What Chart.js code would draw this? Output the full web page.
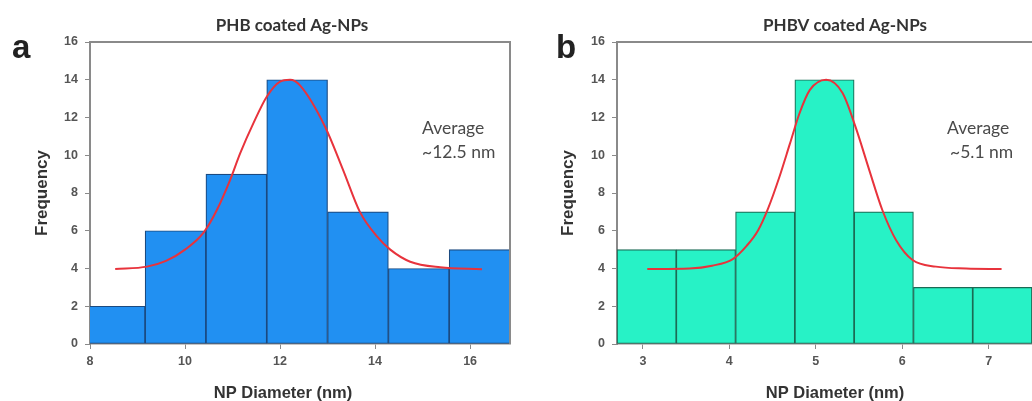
<!DOCTYPE html>
<html>
<head>
<meta charset="utf-8">
<script src="https://cdn.jsdelivr.net/npm/chart.js@4.4.1/dist/chart.umd.min.js"></script>
<style>
  html, body { margin: 0; padding: 0; background: #fff; }
  body { width: 1032px; height: 401px; position: relative; overflow: hidden; }
  .panel { position: absolute; top: 0; height: 401px; }
  #panelA { left: 0; width: 520px; }
  #panelB { left: 520px; width: 512px; }
</style>
</head>
<body>
<div class="panel" id="panelA"><canvas id="chartA"></canvas></div>
<div class="panel" id="panelB"><canvas id="chartB"></canvas></div>
<script>
// PHB coated Ag-NPs - bin edges (nm) and counts per bin
const binEdgesA = [7.88, 9.16, 10.44, 11.72, 13.00, 14.28, 15.56, 16.84];
const countsA = [2, 6, 9, 14, 7, 4, 5];
// fitted normal curve over the histogram
const fitXA = [8.53, 9.2, 9.6, 10.0, 10.39, 10.67, 10.95, 11.16, 11.44, 11.72, 12.0, 12.21, 12.42, 12.95, 13.33, 13.68, 14.04, 14.32, 14.74, 15.37, 16.25];
const fitYA = [3.97, 4.1, 4.4, 5.0, 5.9, 7.1, 8.7, 10.1, 11.7, 13.1, 13.9, 14.0, 13.7, 11.5, 9.2, 7.0, 5.7, 5.0, 4.36, 4.06, 3.96];
const xTicksA = [8, 10, 12, 14, 16];

// PHBV coated Ag-NPs
const binEdgesB = [2.70, 3.386, 4.072, 4.758, 5.444, 6.13, 6.816, 7.502];
const countsB = [5, 5, 7, 14, 7, 3, 3];
const fitXB = [3.05, 3.54, 3.8, 4.04, 4.2, 4.33, 4.45, 4.58, 4.70, 4.81, 4.93, 5.12, 5.31, 5.46, 5.62, 5.77, 5.93, 6.12, 6.39, 6.74, 7.15];
const fitYB = [3.97, 4.0, 4.15, 4.5, 5.2, 6.0, 7.2, 8.86, 10.6, 12.2, 13.45, 14.0, 13.3, 11.5, 9.2, 7.1, 5.5, 4.45, 4.1, 4.0, 3.97];
const xTicksB = [3, 4, 5, 6, 7];

const yTicks = [0, 2, 4, 6, 8, 10, 12, 14, 16];

const AXIS = '#8a8a8a';
const TICK_FONT = { family: 'Liberation Sans, Arial, sans-serif', size: 12.5, weight: 'bold' };

// letter, heading, notes and the frame lines around the plot
const panelText = {
  id: 'panelText',
  afterDraw(chart, args, o) {
    const { ctx, chartArea: a } = chart;
    ctx.save();
    ctx.strokeStyle = AXIS;
    ctx.lineWidth = 2;
    ctx.beginPath();
    ctx.moveTo(a.left, a.top);
    ctx.lineTo(a.right, a.top);
    if (o.frameRight) ctx.lineTo(a.right, a.bottom);
    ctx.stroke();

    ctx.fillStyle = '#222';
    ctx.font = 'bold 33px Liberation Sans, Arial, sans-serif';
    ctx.textAlign = 'left';
    ctx.textBaseline = 'alphabetic';
    ctx.fillText(o.letter, o.letterX, 58);

    ctx.fillStyle = '#333';
    ctx.font = 'bold 17px Lato, sans-serif';
    ctx.textAlign = 'center';
    ctx.fillText(o.heading, a.left + o.headingDx, 31);

    ctx.font = 'bold 16.5px Liberation Sans, Arial, sans-serif';
    ctx.fillText('NP Diameter (nm)', a.left + o.xLabelDx, 398);

    ctx.fillStyle = '#4a4a4a';
    ctx.font = '17.5px Lato, sans-serif';
    ctx.textAlign = 'left';
    o.note.forEach((line, i) => ctx.fillText(line, a.left + o.noteDx[i], 134 + i * 24));
    ctx.restore();
  }
};

function makeHistogram(id, edges, counts, fitX, fitY, xTicks, color, edgeColor, panel) {
  const bars = counts.map((c, i) => ({ x: (edges[i] + edges[i + 1]) / 2, y: c }));
  const fit = fitX.map((x, i) => ({ x: x, y: fitY[i] }));

  return new Chart(document.getElementById(id), {
    type: 'bar',
    data: {
      datasets: [{
        type: 'line',
        data: fit,
        borderColor: '#e8333c',
        borderWidth: 2,
        pointRadius: 0,
        cubicInterpolationMode: 'monotone',
        order: 0
      }, {
        type: 'bar',
        data: bars,
        backgroundColor: color,
        borderColor: edgeColor,
        borderWidth: 1.2,
        borderSkipped: false,
        barPercentage: 1,
        categoryPercentage: 1,
        order: 1
      }]
    },
    options: {
      responsive: true,
      maintainAspectRatio: false,
      animation: false,
      layout: { padding: { top: 42, left: 0, right: panel.padRight, bottom: 0 } },
      plugins: {
        legend: { display: false },
        tooltip: { enabled: false },
        panelText: panel
      },
      scales: {
        x: {
          type: 'linear',
          min: panel.xMin,
          max: panel.xMax,
          offset: false,
          afterBuildTicks: s => { s.ticks = xTicks.map(v => ({ value: v })); },
          afterFit: s => { s.height = 57; },
          grid: { offset: false, drawOnChartArea: false, tickLength: 5, color: AXIS },
          border: { color: AXIS, width: 1.5 },
          ticks: { color: '#555', font: TICK_FONT, padding: 5, maxRotation: 0 }
        },
        y: {
          min: 0,
          max: 16,
          afterBuildTicks: s => { s.ticks = yTicks.map(v => ({ value: v })); },
          afterFit: s => { s.width = panel.yWidth; },
          grid: { drawOnChartArea: false, tickLength: 5, color: AXIS },
          border: { color: AXIS, width: 2 },
          ticks: { color: '#555', font: TICK_FONT, padding: 7 },
          title: {
            display: true,
            text: 'Frequency',
            color: '#333',
            font: { family: 'Liberation Sans, Arial, sans-serif', size: 17, weight: 'bold' },
            padding: { top: panel.yTitlePad, bottom: 0 }
          }
        }
      }
    },
    plugins: [panelText]
  });
}

makeHistogram('chartA', binEdgesA, countsA, fitXA, fitYA, xTicksA, '#2190f2', '#1b4a80', {
  letter: 'a', letterX: 12, heading: 'PHB coated Ag-NPs', headingDx: 202,
  xLabelDx: 193, note: ['Average', '~12.5 nm'], noteDx: [332, 332],
  frameRight: true, padRight: 10, yWidth: 90, yTitlePad: 32, xMin: 8, xMax: 16.84
});

makeHistogram('chartB', binEdgesB, countsB, fitXB, fitYB, xTicksB, '#27f2c6', '#1b6b55', {
  letter: 'b', letterX: 36, heading: 'PHBV coated Ag-NPs', headingDx: 228,
  xLabelDx: 218, note: ['Average', '~5.1 nm'], noteDx: [330, 333],
  frameRight: false, padRight: 0, yWidth: 97, yTitlePad: 38, xMin: 2.70, xMax: 7.502
});
</script>
</body>
</html>
